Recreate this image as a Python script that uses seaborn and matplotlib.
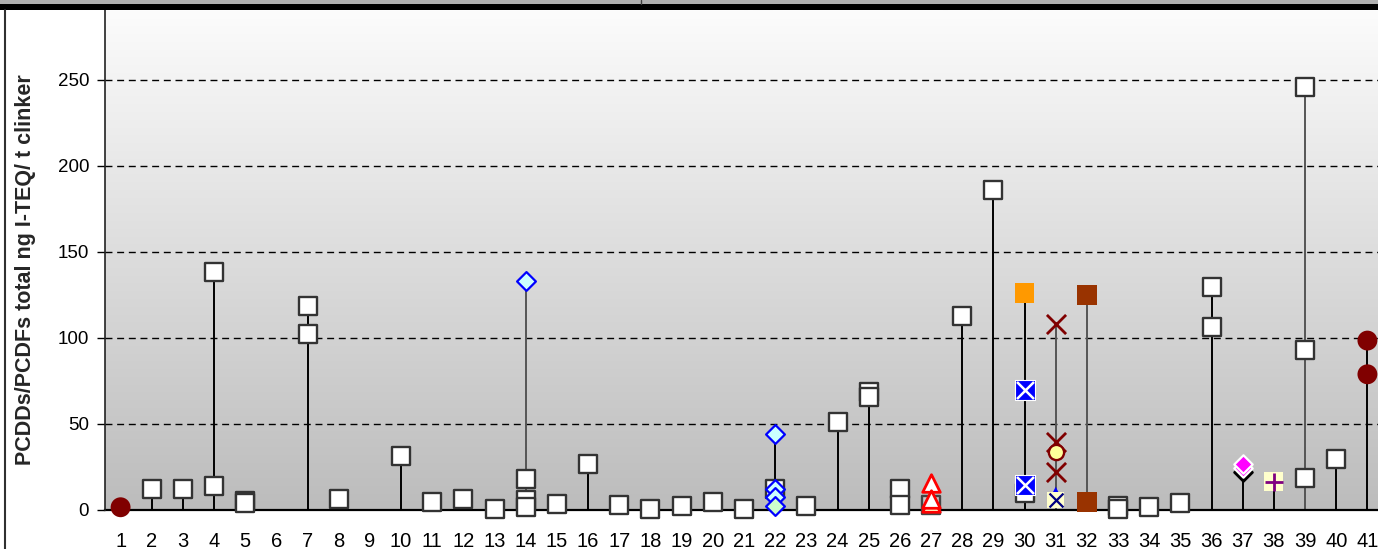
import numpy as np
import pandas as pd
import matplotlib
matplotlib.use("Agg")
import matplotlib.pyplot as plt
from matplotlib.patches import Rectangle
from matplotlib.lines import Line2D
import seaborn as sns

# Valeurs (ng I-TEQ / t clinker) par usine
plants = list(range(1, 42))

sq_plant = [2, 3, 4, 4, 5, 5, 7, 7, 8, 10, 11, 12, 13, 14, 14, 14, 15, 16, 17, 18, 19, 20, 21,
            22, 23, 24, 25, 25, 26, 26, 28, 29, 30, 33, 33, 34, 35, 36, 36, 39, 39, 39, 40]
sq_val = [12.0, 12.4, 138.2, 14.1, 5.5, 4.3, 118.6, 102.1, 6.4, 31.6, 4.5, 6.2, 0.6, 17.8, 5.8, 1.9,
          3.5, 26.6, 2.7, 0.4, 2.5, 4.5, 0.8, 12.2, 2.3, 51.4, 68.5, 65.9, 12.5, 2.9, 113.0, 186.0,
          10.0, 2.3, 0.6, 1.6, 3.9, 129.8, 106.2, 246.0, 93.0, 18.4, 29.5]

red_circle_plant = [1, 41, 41]
red_circle_val = [1.6, 98.5, 78.9]

cyan_dia_plant = [14, 22, 22, 22]
cyan_dia_val = [133.0, 44.0, 12.0, 7.8]
green_dia_plant = [22]
green_dia_val = [2.3]

grey_sq_plant = [27]
grey_sq_val = [3.0]
white_tri_plant = [27, 27]
white_tri_val = [15.5, 6.5]
yellow_tri_plant = [27]
yellow_tri_val = [4.0]

orange_sq_plant = [30]
orange_sq_val = [126.0]
blue_x_plant = [30, 30]
blue_x_val = [69.8, 14.5]

red_x_plant = [31, 31, 31]
red_x_val = [108.0, 39.7, 22.3]
yellow_circle_plant = [31]
yellow_circle_val = [33.5]
blue_tri_plant = [31]
blue_tri_val = [11.0]
yellow_x_plant = [31]
yellow_x_val = [5.8]

brown_sq_plant = [32, 32]
brown_sq_val = [125.0, 4.8]

black_dia_plant = [37]
black_dia_val = [22.0]
magenta_dia_plant = [37, 37]
magenta_dia_val = [24.5, 27.0]
plus_sq_plant = [38]
plus_sq_val = [16.5]

grey_stem_plants = [14, 31, 32, 39]

y_ticks = [0, 50, 100, 150, 200, 250]
y_label = "PCDDs/PCDFs total ng I-TEQ/ t clinker"

sns.set_theme(style="white")
plt.rcParams["font.family"] = ["Liberation Sans", "DejaVu Sans"]

W, H = 1378, 549
fig = plt.figure(figsize=(W / 100, H / 100), dpi=100)
fig.patch.set_facecolor("white")

# bandeau du haut (image recadrée)
fig.patches.append(Rectangle((0, 1 - 4 / H), 1, 4 / H, transform=fig.transFigure,
                             facecolor="#b0b0b0", edgecolor="none", zorder=5))
fig.patches.append(Rectangle((0, 1 - 10 / H), 1, 6 / H, transform=fig.transFigure,
                             facecolor="black", edgecolor="none", zorder=5))
fig.lines.append(Line2D([641 / W, 641 / W], [1 - 4 / H, 1], transform=fig.transFigure,
                        color="#404040", lw=1, zorder=6))
fig.lines.append(Line2D([4.5 / W, 4.5 / W], [0, 1 - 10 / H], transform=fig.transFigure,
                        color="#303030", lw=1.5, zorder=6))

ax = fig.add_axes([105 / W, 39 / H, 1278 / W, 500 / H])
ax.set_xlim(0.5, 41.5)
ax.set_ylim(0, 500 / 1.72)

# fond dégradé
grad = np.linspace(252, 188, 256)[:, None] / 255.0
grad = np.repeat(grad[:, :, None], 3, axis=2)
ax.imshow(grad, extent=[0, 1, 0, 1], transform=ax.transAxes, aspect="auto", zorder=0)

for y in y_ticks[1:]:
    ax.axhline(y, color="black", lw=1, ls=(0, (5, 3.4)), zorder=1)

# tiges verticales
df_all = pd.DataFrame({
    "plant": sq_plant + red_circle_plant + cyan_dia_plant + green_dia_plant + white_tri_plant
    + orange_sq_plant + blue_x_plant + red_x_plant + brown_sq_plant + magenta_dia_plant + plus_sq_plant,
    "val": sq_val + red_circle_val + cyan_dia_val + green_dia_val + white_tri_val
    + orange_sq_val + blue_x_val + red_x_val + brown_sq_val + magenta_dia_val + plus_sq_val,
})
top = df_all.groupby("plant")["val"].max()
for p, v in top.items():
    col = "#555555" if p in grey_stem_plants else "black"
    ax.vlines(p, 0, v, color=col, lw=1.4, zorder=2)


def draw(xs, ys, marker, size, color, edge="none", lw=0, z=3):
    sns.scatterplot(x=xs, y=ys, marker=marker, s=size, color=color, edgecolor=edge,
                    linewidth=lw, ax=ax, zorder=z, clip_on=False, legend=False)


draw(sq_plant, sq_val, "s", 155, "white", "#333333", 1.7)
draw(red_circle_plant, red_circle_val, "o", 205, "#800000")
draw(cyan_dia_plant, cyan_dia_val, "D", 92, "#ccffff", "#0000ff", 1.6, z=4)
draw(green_dia_plant, green_dia_val, "D", 92, "#ccffcc", "#0000ff", 1.6, z=4)
draw(grey_sq_plant, grey_sq_val, "s", 155, "#c8c8c8", "#444444", 1.7)
draw(yellow_tri_plant, yellow_tri_val, "^", 160, "#ffffcc", "#ff0000", 2, z=4)
draw(white_tri_plant, white_tri_val, "^", 160, "white", "#ff0000", 2, z=4)
draw(orange_sq_plant, orange_sq_val, "s", 205, "#ff9900")
draw(blue_x_plant, blue_x_val, "s", 205, "#0000ff", "white", 0.8, z=4)
draw(blue_x_plant, blue_x_val, "x", 150, "white", lw=1.8, z=5)
draw(red_x_plant, red_x_val, "x", 190, "#800000", lw=2, z=4)
draw(yellow_circle_plant, yellow_circle_val, "o", 120, "#ffff99", "#800000", 1.7, z=5)
draw(blue_tri_plant, blue_tri_val, "^", 40, "#0000ff", z=4)
draw(yellow_x_plant, yellow_x_val, "s", 140, "#ffffcc", z=5)
draw(yellow_x_plant, yellow_x_val, "x", 100, "#000080", lw=1.6, z=6)
draw(brown_sq_plant, brown_sq_val, "s", 205, "#993300")
draw(black_dia_plant, black_dia_val, "D", 88, "black", "black", 1.6)
draw(magenta_dia_plant, magenta_dia_val, "D", 88, "#ff00ff", "white", 1.6, z=4)
draw(plus_sq_plant, plus_sq_val, "s", 185, "#ffffcc")
draw(plus_sq_plant, plus_sq_val, "+", 185, "#800080", lw=2, z=4)

ax.set_xticks(plants)
ax.set_xticklabels([str(p) for p in plants], fontsize=14.5)
ax.set_yticks(y_ticks)
ax.set_yticklabels([str(t) for t in y_ticks], fontsize=13.5)
ax.tick_params(axis="x", length=0, pad=16, colors="black")
ax.tick_params(axis="y", direction="out", length=5.5, width=1, pad=6, colors="black", left=True)
ax.set_ylabel(y_label, fontsize=15.5, fontweight="bold")
ax.yaxis.set_label_coords(-0.054, 0.48)

for s in ["top", "right"]:
    ax.spines[s].set_visible(False)
ax.spines["left"].set_color("#222222")
ax.spines["left"].set_linewidth(1.2)
ax.spines["bottom"].set_color("black")
ax.spines["bottom"].set_linewidth(1.6)
ax.spines["left"].set_zorder(7)
ax.spines["bottom"].set_zorder(2.5)

fig.savefig("out.png", dpi=100)
